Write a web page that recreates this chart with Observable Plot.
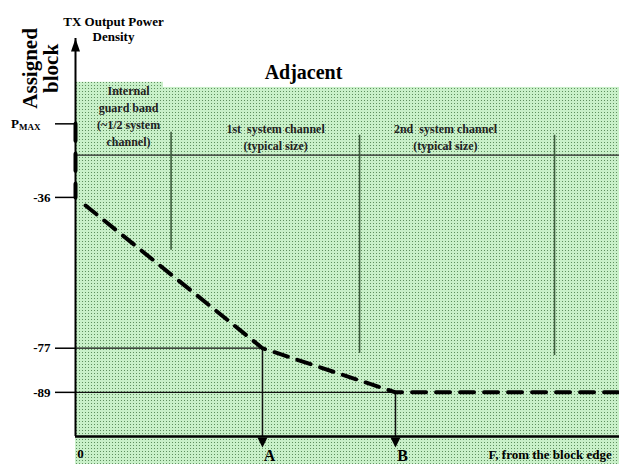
<!DOCTYPE html>
<html><head><meta charset="utf-8">
<script src="https://cdn.jsdelivr.net/npm/d3@7"></script>
<script src="https://cdn.jsdelivr.net/npm/@observablehq/plot@0.6"></script>
<style>html,body{margin:0;padding:0;background:#fff;} svg{display:block}</style>
</head><body><div id="chart"></div>
<script>
// ---- data (x in system-channel units from block edge, y in dB levels) ----
const xMin = 0, xMax = 2.863, yMin = -101, yMax = 7.2;
const yTickValues = [-16, -36, -77, -89];
const yTickLabels = ["PMAX", "-36", "-77", "-89"];
const xTickValues = [0];
const xTickLabels = ["0"];
const guardLevel = -24.5;
const inBlockX = [0, 0];
const inBlockY = [-16, -36];
const maskX = [0.053, 0.984, 1.684, 2.863];
const maskY = [-38.2, -77, -89, -89];
const pointNames = ["A", "B"];
const pointX = [0.984, 1.684];
const pointY = [-77, -89];
const dividerX = [0.503, 1.495, 2.521];
const dividerTop = [-18.3, -19.1, -19.1];
const dividerBottom = [-50.4, -78.4, -79];
const zoneX1 = [0, 0.463];
const zoneX2 = [0.463, 2.863];
const zoneTop = [-4.7, -6.1];
const zoneBottom = -108.6;
// annotation texts and anchors
const titleText = "TX Output Power\nDensity";
const titlePos = [0.2, 13.6];
const blockText = "Assigned\nblock";
const blockPos = [-0.184, -0.94];
const adjText = "Adjacent";
const adjPos = [1.2, -2.19];
const guardText = "Internal\nguard band\n(~1/2 system\nchannel)";
const guardPos = [0.279, -5.04];
const chanTexts = ["1st  system channel\n(typical size)", "2nd  system channel\n(typical size)"];
const chanX = [1.053, 1.947];
const chanY = -15.37;
const fText = "F, from the block edge";
const fPos = [2.174, -106.07];

const zones = zoneX1.map((x1, i) => ({x1, x2: zoneX2[i], y1: zoneTop[i], y2: zoneBottom}));
const mask = maskX.map((x, i) => ({x, y: maskY[i]}));
const inBlock = inBlockX.map((x, i) => ({x, y: inBlockY[i]}));
const points = pointNames.map((name, i) => ({name, x: pointX[i], y: pointY[i]}));
const dividers = dividerX.map((x, i) => ({x, y1: dividerTop[i], y2: dividerBottom[i]}));
const chans = chanTexts.map((t, i) => ({t, x: chanX[i], y: chanY}));

const arrowUp = {draw(ctx) { ctx.moveTo(0, 0); ctx.lineTo(-4.5, 13); ctx.lineTo(4.5, 13); ctx.closePath(); }};
const arrowDown = {draw(ctx) { ctx.moveTo(0, 0); ctx.lineTo(-5, -10); ctx.lineTo(5, -10); ctx.closePath(); }};

const F = "Liberation Serif";
const svg = Plot.plot({
  width: 619, height: 464,
  marginLeft: 75, marginRight: 0, marginTop: 38, marginBottom: 28,
  style: {fontFamily: F, background: "white", color: "black"},
  x: {domain: [xMin, xMax]},
  y: {domain: [yMin, yMax]},
  marks: [
    Plot.rect(zones, {x1: "x1", x2: "x2", y1: "y1", y2: "y2", fill: "url(#dots)"}),
    Plot.ruleY([guardLevel], {x1: xMin, x2: xMax, stroke: "#222", strokeWidth: 1.2}),
    Plot.ruleX(dividers, {x: "x", y1: "y1", y2: "y2", stroke: "#3d5c3d", strokeWidth: 1.6}),
    Plot.ruleY(points, {y: "y", x1: xMin, x2: "x", stroke: "#111", strokeWidth: 1.2}),
    Plot.ruleX(points, {x: "x", y1: "y", y2: yMin, stroke: "#111", strokeWidth: 1.5}),
    Plot.dot(points, {x: "x", y: yMin, dy: 11, symbol: arrowDown, fill: "#000", stroke: "none"}),
    Plot.ruleX([xMin], {y1: yMin, y2: yMax, stroke: "#000", strokeWidth: 2}),
    Plot.dot([xMin], {x: d => d, y: yMax, symbol: arrowUp, fill: "#000", stroke: "none"}),
    Plot.ruleY([yMin], {x1: xMin, x2: xMax, stroke: "#000", strokeWidth: 2.5}),
    Plot.line(inBlock, {x: "x", y: "y", stroke: "#000", strokeWidth: 4, strokeDasharray: "17,13"}),
    Plot.line(mask, {x: "x", y: "y", stroke: "#000", strokeWidth: 4, strokeDasharray: "14,10"}),
    Plot.axisY({ticks: yTickValues, tickFormat: d => yTickLabels[yTickValues.indexOf(d)], tickSize: 20, tickPadding: 5, strokeWidth: 1.5, fontSize: 13, fontWeight: "bold", label: null}),
    Plot.axisX({ticks: xTickValues, tickFormat: d => xTickLabels[xTickValues.indexOf(d)], tickSize: 0, tickPadding: 12, dx: 5, fontSize: 13, fontWeight: "bold", label: null}),
    Plot.text([titleText], {x: titlePos[0], y: titlePos[1], text: d => d, fontSize: 13, fontWeight: "bold", lineAnchor: "top", lineHeight: 1.15, fill: "#000"}),
    Plot.text([blockText], {x: blockPos[0], y: blockPos[1], text: d => d, fontSize: 21, fontWeight: "bold", rotate: -90, lineAnchor: "middle", lineHeight: 1.0, fill: "#000"}),
    Plot.text([adjText], {x: adjPos[0], y: adjPos[1], text: d => d, fontSize: 20, fontWeight: "bold", fill: "#000"}),
    Plot.text([guardText], {x: guardPos[0], y: guardPos[1], text: d => d, fontSize: 12, fontWeight: "bold", lineAnchor: "top", lineHeight: 1.4, fill: "#222"}),
    Plot.text(chans, {x: "x", y: "y", text: "t", fontSize: 12, fontWeight: "bold", lineAnchor: "top", lineHeight: 1.4, fill: "#222"}),
    Plot.text(points, {x: "x", y: yMin, dy: 19, dx: 7, text: "name", fontSize: 16, fontWeight: "bold", fill: "#000"}),
    Plot.text([fText], {x: fPos[0], y: fPos[1], text: d => d, fontSize: 13, fontWeight: "bold", textAnchor: "start", fill: "#000"})
  ]
});

const sel = d3.select(svg);
const defs = sel.insert("defs", ":first-child");
const pat = defs.append("pattern").attr("id", "dots").attr("width", 3).attr("height", 3).attr("patternUnits", "userSpaceOnUse");
pat.append("rect").attr("width", 3).attr("height", 3).attr("fill", "#c9f0c9");
pat.append("rect").attr("x", 1).attr("y", 1).attr("width", 1).attr("height", 1).attr("fill", "#5f8f5f");

sel.selectAll("text").filter(function() { return this.textContent === "PMAX"; }).each(function() {
  const t = d3.select(this);
  t.text("P").attr("dx", -10);
  t.append("tspan").attr("font-size", 9).attr("dy", "0.2em").text("MAX");
});

document.getElementById("chart").appendChild(svg);
</script>
</body></html>
